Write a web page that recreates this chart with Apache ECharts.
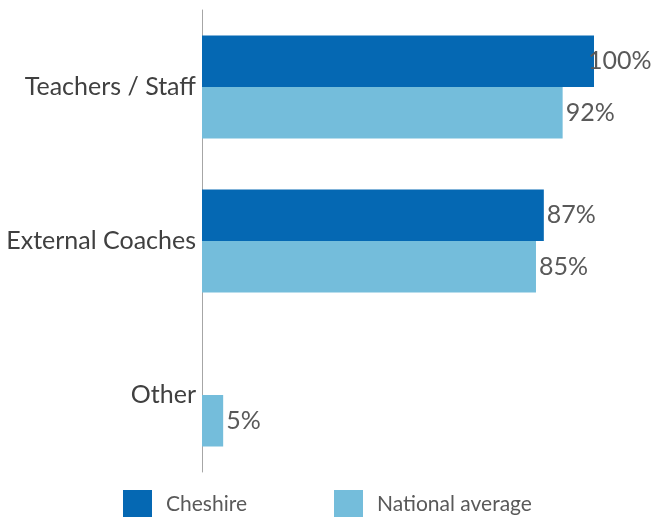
<!DOCTYPE html>
<html>
<head>
<meta charset="utf-8">
<script src="https://cdn.jsdelivr.net/npm/echarts@6/dist/echarts.min.js"></script>
<style>html,body{margin:0;padding:0;background:#fff}#c{width:653px;height:517px}</style>
</head>
<body>
<div id="c"></div>
<script>
var categories = ['Teachers / Staff', 'External Coaches', 'Other'];
var seriesNames = ['Cheshire', 'National average'];
var cheshire = [100, 87.2, 0];
var national = [92, 85.2, 5.4];

var FONT = 'Lato';
function items(arr) {
  return arr.map(function (v) {
    var it = { value: v };
    if (v === 0) it.label = { show: false };
    if (v >= 100) it.label = { distance: -6 };
    return it;
  });
}
var chart = echarts.init(document.getElementById('c'));
chart.setOption({
  animation: false,
  grid: { left: 202, right: 59, top: 10, bottom: 45, containLabel: false },
  xAxis: { type: 'value', min: 0, max: 100, show: false },
  yAxis: {
    type: 'category', data: categories, inverse: true,
    axisLine: { show: true, lineStyle: { color: '#A6A6A6', width: 1 } },
    axisTick: { show: false },
    axisLabel: { color: '#404040', fontSize: 25, fontFamily: FONT, margin: 6 }
  },
  legend: [
    { data: [seriesNames[0]], left: 123, top: 490, itemWidth: 29, itemHeight: 29, icon: 'rect', padding: 0,
      textStyle: { color: '#595959', fontSize: 21, fontFamily: FONT, padding: [0, 0, 0, 9] } },
    { data: [seriesNames[1]], left: 334, top: 490, itemWidth: 29, itemHeight: 29, icon: 'rect', padding: 0,
      textStyle: { color: '#595959', fontSize: 21, fontFamily: FONT, padding: [0, 0, 0, 9] } }
  ],
  series: [
    { name: seriesNames[0], type: 'bar', data: items(cheshire), barCategoryGap: '33%', barGap: '0%',
      itemStyle: { color: '#0568B3' },
      label: { show: true, position: 'right', distance: 3, color: '#595959', fontSize: 25, fontFamily: FONT,
        formatter: function (p) { return Math.round(p.value) + '%'; } } },
    { name: seriesNames[1], type: 'bar', data: items(national), barCategoryGap: '33%', barGap: '0%',
      itemStyle: { color: '#74BDDB' },
      label: { show: true, position: 'right', distance: 3, color: '#595959', fontSize: 25, fontFamily: FONT,
        formatter: function (p) { return Math.round(p.value) + '%'; } } }
  ]
});
</script>
</body>
</html>
